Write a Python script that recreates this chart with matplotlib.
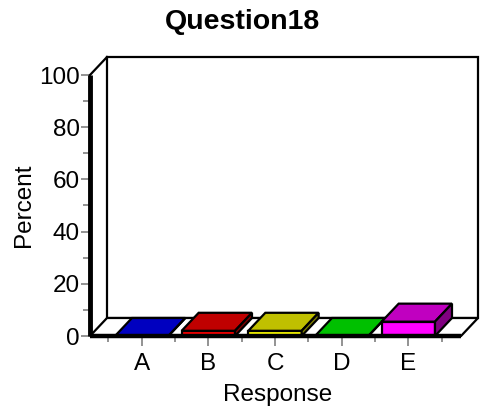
import matplotlib
matplotlib.use("Agg")
import matplotlib.pyplot as plt
from matplotlib.patches import Polygon
import numpy as np

plt.rcParams['font.family'] = ['Liberation Sans', 'DejaVu Sans']

# ---------------- data ----------------
categories = ["A", "B", "C", "D", "E"]
percents = [0, 2, 2, 0, 5.5]
front_colors = ["#0000FF", "#FF0000", "#FFFF00", "#00FF00", "#FF00FF"]
top_colors = ["#0000C0", "#C00000", "#C0C000", "#00C000", "#C000C0"]
side_colors = ["#000080", "#800000", "#808000", "#008000", "#800080"]
y_ticks = [0, 20, 40, 60, 80, 100]

# ---------------- figure ----------------
W, H = 485, 411
fig = plt.figure(figsize=(W / 100, H / 100), dpi=100)
ax = fig.add_axes([90 / W, (H - 336) / H, (461 - 90) / W, (336 - 75) / H])
ax.set_xlim(-0.775, 4.79)
ax.set_ylim(0, 100)

# depth offset of the fake 3d box (data units)
dx = 17 / 66.7
dy = 18 / 2.61
x0, x1 = ax.get_xlim()
lw = 1.6

# back wall
ax.add_patch(Polygon([(x0 + dx, dy), (x1 + dx, dy), (x1 + dx, 100 + dy), (x0 + dx, 100 + dy)],
                     closed=True, fc="white", ec="black", lw=lw, clip_on=False, zorder=1))
# left side diagonal at the top
ax.plot([x0, x0 + dx], [100, 100 + dy], color="black", lw=lw, clip_on=False, zorder=2)
# floor
ax.add_patch(Polygon([(x0, 0), (x1, 0), (x1 + dx, dy), (x0 + dx, dy)],
                     closed=True, fc="white", ec="black", lw=lw, clip_on=False, zorder=2))
ax.plot([x0, x1], [0, 0], color="black", lw=3.2, clip_on=False, zorder=6, solid_capstyle="butt")

# bars
bw = 0.4
for i, v in enumerate(percents):
    a, b = i - bw, i + bw
    ax.add_patch(Polygon([(a, 0), (b, 0), (b, v), (a, v)], closed=True,
                         fc=front_colors[i], ec="black", lw=lw, clip_on=False, zorder=4))
    ax.add_patch(Polygon([(a, v), (b, v), (b + dx, v + dy), (a + dx, v + dy)], closed=True,
                         fc=top_colors[i], ec="black", lw=lw, clip_on=False, zorder=4))
    ax.add_patch(Polygon([(b, 0), (b, v), (b + dx, v + dy), (b + dx, dy)], closed=True,
                         fc=side_colors[i], ec="black", lw=lw, clip_on=False, zorder=4))

# front y axis
ax.plot([x0, x0], [0, 100], color="black", lw=3.5, clip_on=False, zorder=6, solid_capstyle="butt")

for s in ax.spines.values():
    s.set_visible(False)
ax.set_facecolor("none")

ax.set_yticks(y_ticks)
ax.set_yticks(np.arange(10, 100, 20), minor=True)
ax.set_xticks(range(len(categories)))
ax.set_xticklabels(categories)
ax.set_xticks(np.arange(-0.5, len(categories), 1.0), minor=True)
ax.tick_params(axis="y", which="major", length=6.5, width=1.2, color="#808080",
               labelsize=17.5, pad=1)
ax.tick_params(axis="y", which="minor", length=5, width=1.2, color="#808080")
ax.tick_params(axis="x", which="major", length=7, width=1.2, color="#808080",
               labelsize=17.5, pad=5)
ax.tick_params(axis="x", which="minor", length=4, width=1.2, color="#808080")

fig.text(278 / W, (H - 395) / H, "Response", fontsize=17.5, ha="center", va="center")
fig.text(24 / W, (H - 205) / H, "Percent", fontsize=17.5, ha="center", va="center", rotation=90)
fig.text(243 / W, (H - 22) / H, "Question18", fontsize=20.5, fontweight="bold", ha="center", va="center")

fig.savefig("out.png", dpi=100)
